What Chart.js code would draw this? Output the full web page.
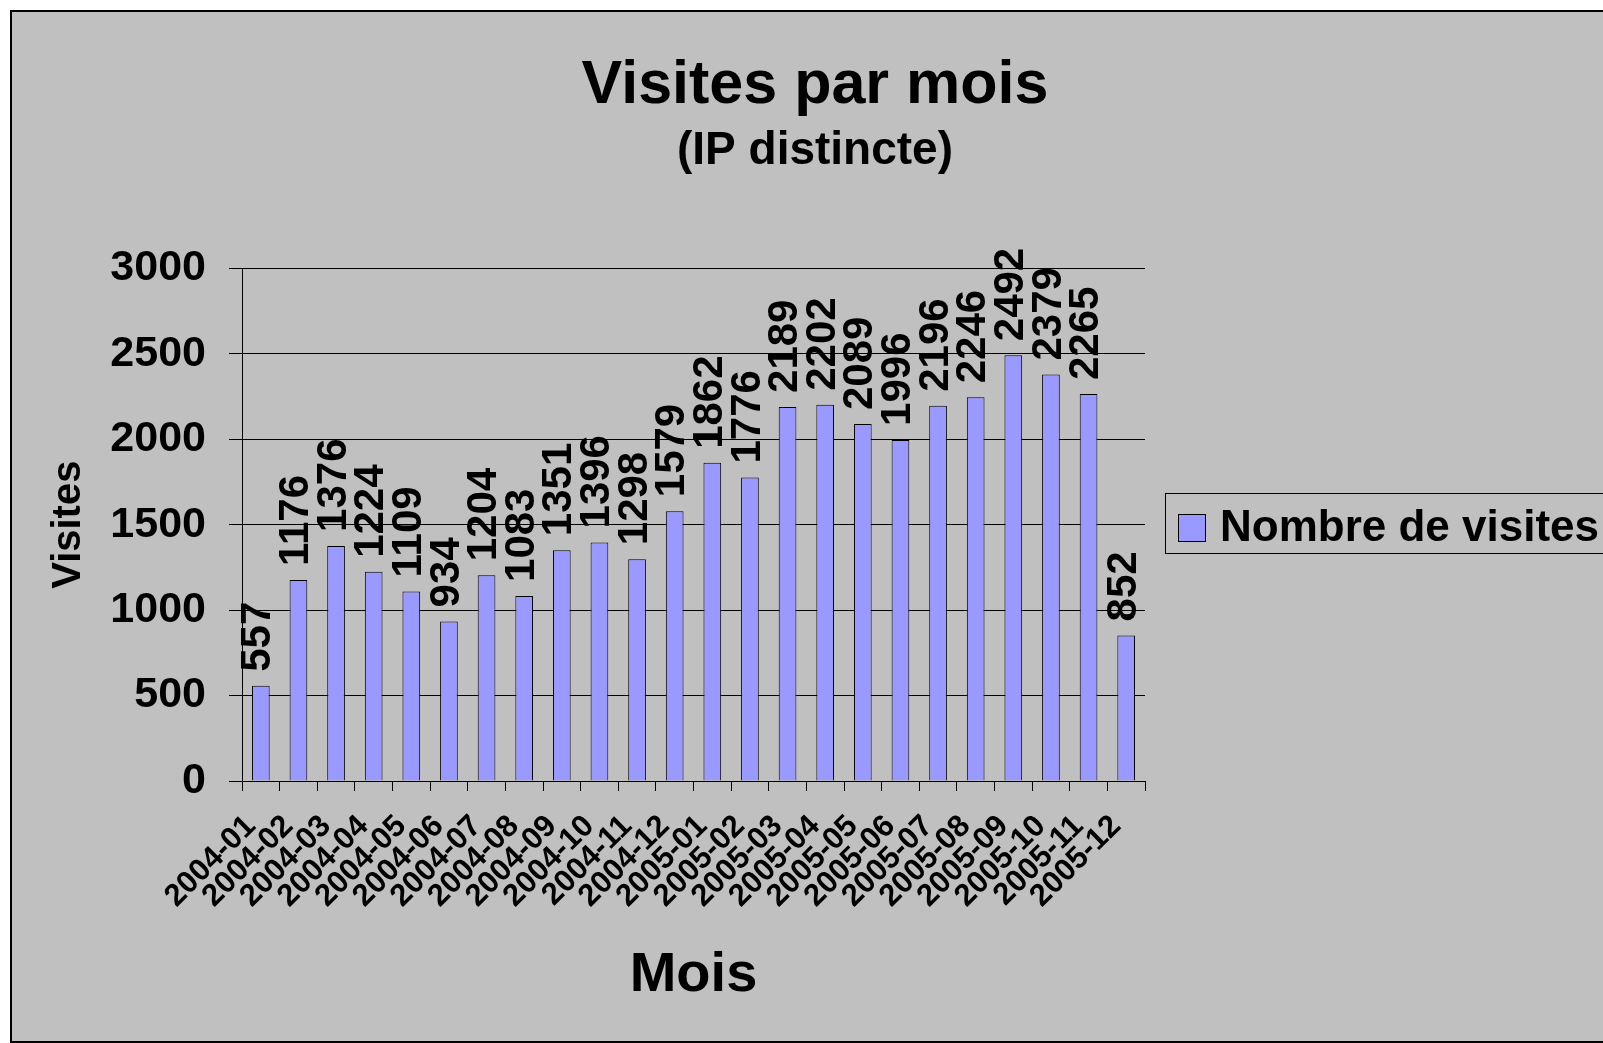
<!DOCTYPE html>
<html>
<head>
<meta charset="utf-8">
<title>Visites par mois</title>
<script src="https://cdn.jsdelivr.net/npm/chart.js@4.4.1/dist/chart.umd.min.js"></script>
<style>
  body{margin:0;background:#fff;overflow:hidden;font-family:"Liberation Sans",Arial,sans-serif;}
  .frame{position:absolute;left:10px;top:10px;width:1606px;height:1029px;border:2px solid #000;background:#c0c0c0;}
  .frame canvas{position:absolute;left:0;top:0;}
  .legend{position:absolute;left:1165px;top:493px;width:470px;height:59px;border:1px solid #000;}
  .legend .box{position:absolute;left:12px;top:20px;width:26px;height:26px;border:1px solid #000;background:#9999ff;}
  .legend .txt{position:absolute;left:54px;top:10px;font-size:44px;line-height:44px;font-weight:bold;color:#000;white-space:nowrap;}
</style>
</head>
<body>
<div class="frame"><canvas id="c" width="1606" height="1029"></canvas></div>
<div class="legend"><span class="box"></span><span class="txt" id="legTxt"></span></div>
<script>
// data
var months = ['2004-01','2004-02','2004-03','2004-04','2004-05','2004-06','2004-07','2004-08','2004-09','2004-10','2004-11','2004-12',
              '2005-01','2005-02','2005-03','2005-04','2005-05','2005-06','2005-07','2005-08','2005-09','2005-10','2005-11','2005-12'];
var visits = [557,1176,1376,1224,1109,934,1204,1083,1351,1396,1298,1579,
              1862,1776,2189,2202,2089,1996,2196,2246,2492,2379,2265,852];
var seriesName = 'Nombre de visites';
var yMax = 3000, yStep = 500;

Chart.defaults.font.family = '"Liberation Sans", Arial, sans-serif';
Chart.defaults.font.weight = 'bold';
Chart.defaults.color = '#000';

document.getElementById('legTxt').textContent = seriesName;

// values written vertically above each bar
var barValues = {
  id: 'barValues',
  afterDatasetsDraw: function(chart){
    var ctx = chart.ctx;
    var meta = chart.getDatasetMeta(0);
    ctx.save();
    ctx.font = 'bold 42px "Liberation Sans", Arial, sans-serif';
    ctx.fillStyle = '#000';
    ctx.textAlign = 'left';
    ctx.textBaseline = 'middle';
    meta.data.forEach(function(bar, i){
      ctx.save();
      ctx.translate(bar.x - 2, bar.y - 14);
      ctx.rotate(-Math.PI/2);
      ctx.fillText(String(chart.data.datasets[0].data[i]), 0, 0);
      ctx.restore();
    });
    ctx.restore();
  }
};

new Chart(document.getElementById('c'), {
  type: 'bar',
  data: {
    labels: months,
    datasets: [{
      label: seriesName,
      data: visits,
      backgroundColor: '#9999ff',
      borderColor: '#000',
      borderWidth: 1,
      barPercentage: 0.47,
      categoryPercentage: 1
    }]
  },
  options: {
    responsive: false,
    animation: false,
    layout: {padding: 0},
    plugins: {
      legend: {display: false},
      tooltip: {enabled: false},
      title: {
        display: true, text: 'Visites par mois',
        font: {size: 61, weight: 'bold'}, color: '#000',
        padding: {top: 38, bottom: 0}
      },
      subtitle: {
        display: true, text: '(IP distincte)',
        font: {size: 46, weight: 'bold'}, color: '#000',
        padding: {top: 1, bottom: 89}
      }
    },
    scales: {
      x: {
        grid: {offset: true, drawOnChartArea: false, color: '#000', tickLength: 10, lineWidth: 1},
        border: {color: '#000', width: 1},
        ticks: {minRotation: 45, maxRotation: 45, autoSkip: false, font: {size: 31, weight: 'bold'},
                labelOffset: -10, padding: 17},
        title: {display: true, text: 'Mois', font: {size: 56, weight: 'bold'}, padding: {top: 0, bottom: 32}},
        afterFit: function(s){ s.height = 260; }
      },
      y: {
        min: 0, max: yMax,
        grid: {color: '#000', tickLength: 13, lineWidth: 1},
        border: {color: '#000', width: 1},
        ticks: {stepSize: yStep, font: {size: 43, weight: 'bold'}, padding: 23,
                callback: function(v){ return String(v); }},
        title: {display: true, text: 'Visites', font: {size: 40, weight: 'bold'}, padding: {top: 33, bottom: 0}},
        afterFit: function(s){ s.width = 230; }
      },
      yR: {
        type: 'linear', position: 'right', display: true,
        grid: {display: false}, border: {display: false}, ticks: {display: false},
        afterFit: function(s){ s.width = 473; }
      }
    }
  },
  plugins: [barValues]
});
</script>
</body>
</html>
